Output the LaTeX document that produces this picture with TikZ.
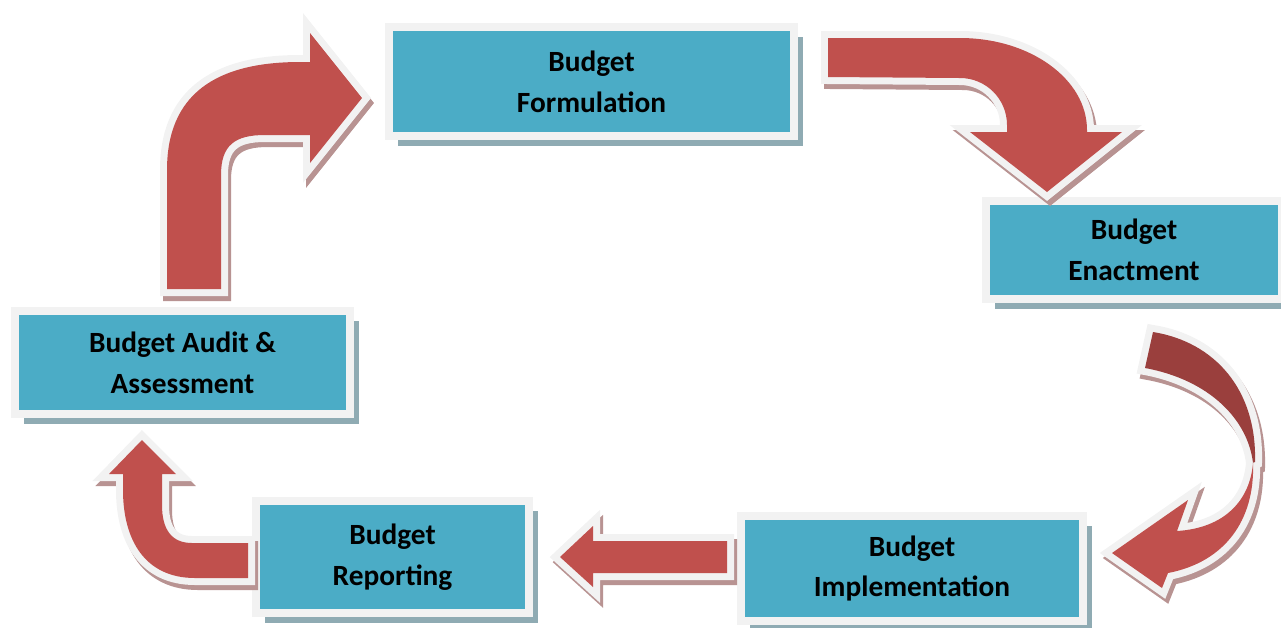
\documentclass[tikz,border=0pt]{standalone}
\usepackage{fontspec}
\setmainfont{Carlito}
\usetikzlibrary{shadows}
\definecolor{stagefill}{HTML}{4BACC6}
\definecolor{rim}{HTML}{F2F2F2}
\definecolor{stageshade}{HTML}{8FABB3}
\definecolor{arrowred}{HTML}{C0504D}
\definecolor{arrowdark}{HTML}{9A3F3D}
\definecolor{arrowshade}{HTML}{B89392}

\tikzset{
  stage/.style={draw=rim, line width=0.16cm, fill=stagefill, inner sep=0pt,
    align=center, font=\bfseries\fontsize{16.7}{23.3}\selectfont,
    drop shadow={shadow xshift=0.18cm, shadow yshift=-0.2cm, fill=stageshade, opacity=1}},
  bigarrow/.style={fill=#1, line join=miter, miter limit=2,
    preaction={draw=arrowshade, fill=arrowshade, line width=0.28cm,
      transform canvas={shift={(3,5)}}},
    preaction={draw=rim, fill=rim, line width=0.28cm}},
  bigarrow/.default=arrowred
}

\begin{document}
\begin{tikzpicture}[x=0.02cm, y=-0.02cm]
  \useasboundingbox (0,0) rectangle (1281,627);

  % the five stages
  \node[stage, minimum width=8.1cm, minimum height=2.18cm] (form) at (591.5,81.5) {Budget\\Formulation};
  \node[stage, minimum width=5.92cm, minimum height=1.96cm] (enact) at (1134,250) {Budget\\Enactment};
  \node[stage, minimum width=6.84cm, minimum height=2.1cm] (impl) at (912,568.5) {Budget\\Implementation};
  \node[stage, minimum width=5.46cm, minimum height=2.24cm] (report) at (392.5,557) {Budget\\Reporting};
  \node[stage, minimum width=6.7cm, minimum height=2.06cm] (audit) at (182.5,362.5) {Budget Audit \&\\Assessment};

  % audit -> formulation
  \path[bigarrow] (167,289) -- (167,170) .. controls (167,95) and (215,62) .. (300,62)
    -- (310,62) -- (310,33) -- (362,98) -- (310,163) -- (310,135) -- (265,135)
    .. controls (235,135) and (221,145) .. (221,175) -- (221,289) -- cycle;

  % formulation -> enactment
  \path[bigarrow] (828,38) -- (960,38) .. controls (1030,38) and (1087,79) .. (1087,130)
    -- (1087,132) -- (1122,132) -- (1047,192) -- (970,132) -- (1007,132) -- (1007,125)
    .. controls (1007,99) and (986,78) .. (960,78) -- (828,77) -- cycle;

  % enactment -> implementation, back face then front face
  \path[bigarrow=arrowdark, line join=round] (1153,332) .. controls (1215,342) and (1257,390) .. (1255,462)
    -- (1253,463) .. controls (1248,420) and (1210,380) .. (1145,368) -- cycle;
  \path[bigarrow] (1253,463) .. controls (1250,500) and (1225,528) .. (1177,531)
    -- (1188,500) -- (1112,553) -- (1162,588) -- (1168,573)
    .. controls (1225,562) and (1255,520) .. (1253,463) -- cycle;

  % implementation -> reporting
  \path[bigarrow] (560,557) -- (593,526) -- (593,541) -- (727,541) -- (727,573)
    -- (593,573) -- (593,587) -- cycle;

  % reporting -> audit
  \path[bigarrow] (142,440) -- (176,474) -- (162,474) -- (162,505)
    .. controls (162,530) and (172,543) .. (192,543) -- (248,543) -- (248,578) -- (195,578)
    .. controls (145,578) and (123,540) .. (123,490) -- (123,474) -- (109,474) -- cycle;
\end{tikzpicture}
\end{document}
